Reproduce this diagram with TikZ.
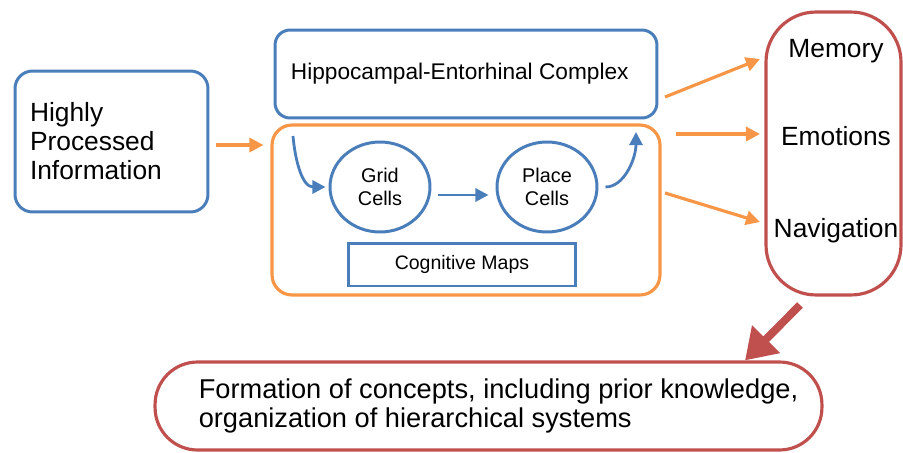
\documentclass[tikz,border=0pt]{standalone}
\usepackage{fontspec}
\setmainfont{Liberation Sans}
\usetikzlibrary{arrows.meta,shapes.geometric}
\definecolor{hcblue}{RGB}{74,126,187}
\definecolor{hcorange}{RGB}{247,150,70}
\definecolor{hcred}{RGB}{192,80,77}
\tikzset{>=stealth,
  bluebox/.style={draw=hcblue, line width=1.7pt, rounded corners=0.35cm},
  orangebox/.style={draw=hcorange, line width=1.8pt, rounded corners=0.4cm},
  redbox/.style={draw=hcred, line width=1.8pt},
  cellnode/.style={ellipse, draw=hcblue, line width=1.7pt, minimum width=2cm, minimum height=1.8cm, align=center, font=\fontsize{11.3}{13.5}\selectfont},
  bluearrow/.style={draw=hcblue, line width=1.6pt, -{Triangle[length=7.5pt,width=7.5pt]}},
  orangearrow/.style={draw=hcorange, line width=1.8pt, -{Triangle[length=8pt,width=8pt]}},
  bigarrow/.style={draw=hcred, line width=4.5pt, -{Triangle[length=0.6cm,width=0.75cm]}}
}
\begin{document}
\begin{tikzpicture}[x=0.02cm, y=-0.02cm]
    \useasboundingbox (0,0) rectangle (903,453);
    \node[bluebox, minimum width=3.86cm, minimum height=2.82cm, text width=3.26cm, align=left, inner xsep=0pt,
      font=\fontsize{15}{16.5}\selectfont] (info) at (111.5,141.5) {Highly\\Processed\\Information};
    \node[bluebox, rounded corners=0.3cm, minimum width=7.64cm, minimum height=1.76cm,
      font=\fontsize{12.9}{15}\selectfont] (hec) at (466,74) {\hspace*{-0.25cm}Hippocampal-Entorhinal Complex};
    \node[orangebox, minimum width=7.76cm, minimum height=3.4cm] (maps) at (466,210) {};
    \node[cellnode] (grid) at (380,187) {Grid\\Cells};
    \node[cellnode] (place) at (547,187) {Place\\Cells};
    \node[draw=hcblue, line width=1.7pt, minimum width=4.56cm, minimum height=0.86cm,
      font=\fontsize{11.1}{13}\selectfont] (cog) at (462,264.5) {Cognitive Maps};
    \node[redbox, rounded corners=1cm, minimum width=2.7cm, minimum height=5.66cm] (out) at (833.5,153.5) {};
    \node[font=\fontsize{15}{17}\selectfont] (memory) at (836,51) {Memory};
    \node[font=\fontsize{15}{17}\selectfont] (emotions) at (836,136) {Emotions};
    \node[font=\fontsize{15}{17}\selectfont] (navigation) at (836,231) {Navigation};
    \node[redbox, rounded corners=0.85cm, minimum width=13.34cm, minimum height=1.76cm] (concepts) at (488.5,406) {};
    \node[align=left, font=\fontsize{15.5}{16.5}\selectfont] (conceptstext) at ([xshift=0.2cm]concepts.center)
      {Formation of concepts, including prior knowledge,\\organization of hierarchical systems};
    \coordinate (inA) at (293,136);
    \coordinate (outA) at (636,132);
    \coordinate (m0) at (665,97);
    \coordinate (m1) at (760,59);
    \coordinate (e0) at (676,134);
    \coordinate (e1) at (760,134);
    \coordinate (n0) at (665,193);
    \coordinate (n1) at (760,222);
    \coordinate (r0) at (800,305);
    \draw[orangearrow, shorten <=0.14cm, shorten >=0.14cm] ([yshift=-0.07cm]info.east) -- ([yshift=-0.07cm]info.east -| maps.west);
    \draw[bluearrow] (inA) to[out=-85, in=180] ([xshift=-0.06cm]grid.west);
    \draw[bluearrow, shorten <=0.14cm, shorten >=0.14cm] ([yshift=-0.16cm]grid.east) -- ([yshift=-0.16cm]place.west);
    \draw[bluearrow, shorten <=0.14cm] (place.east) to[out=0, in=-90] (outA);
    \draw[orangearrow] (m0) -- (m1);
    \draw[orangearrow] (e0) -- (e1);
    \draw[orangearrow] (n0) -- (n1);
    \draw[bigarrow] (r0) -- (concepts.north -| 745,0);
\end{tikzpicture}
\end{document}
